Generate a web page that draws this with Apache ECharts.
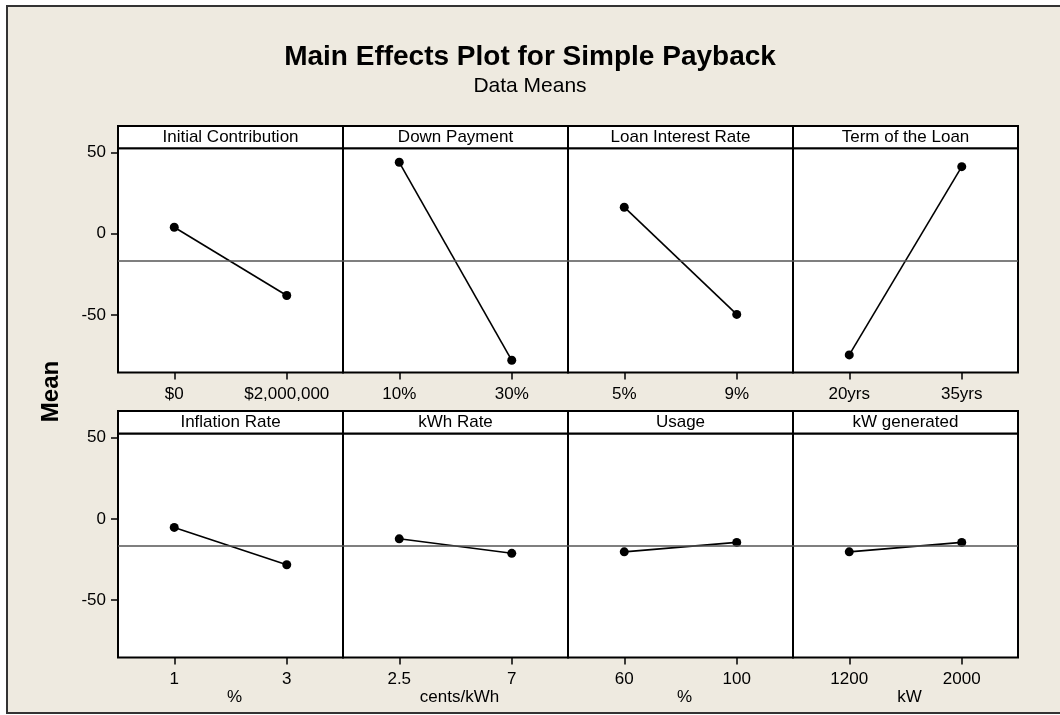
<!DOCTYPE html>
<html>
<head>
<meta charset="utf-8">
<title>Main Effects Plot for Simple Payback</title>
<script src="https://cdn.jsdelivr.net/npm/echarts@6/dist/echarts.min.js"></script>
<style>
  html, body { margin: 0; padding: 0; background: #ffffff; }
  #chart { width: 1060px; height: 715px; }
</style>
</head>
<body>
<div id="chart"></div>
<script>
// Factors and their two levels
const factors = ['Initial Contribution', 'Down Payment', 'Loan Interest Rate', 'Term of the Loan',
                 'Inflation Rate', 'kWh Rate', 'Usage', 'kW generated'];
const levels = [['$0', '$2,000,000'], ['10%', '30%'], ['5%', '9%'], ['20yrs', '35yrs'],
                ['1', '3'], ['2.5', '7'], ['60', '100'], ['1200', '2000']];
const units = ['', '', '', '', '%', 'cents/kWh', '%', 'kW'];

// Mean simple payback at each level
const levelMeans = [
  [4.0, -38.0],
  [43.9, -77.8],
  [16.3, -49.6],
  [-74.5, 41.2],
  [-5.3, -28.2],
  [-12.3, -21.2],
  [-20.3, -14.5],
  [-20.3, -14.5]
];
const grandMean = -16.8;

// Shared y scale
const yTicks = [-50, 0, 50];
const yMin = -85.3;
const yMax = 52.5;

// Panel layout
const FONT = 'Liberation Sans';
const PANEL_LEFT = 118, PANEL_W = 225;
const PLOT_TOP = [148.3, 433.4], PLOT_H = 224.2, STRIP_H = 22.4;

const grids = [], xAxes = [], yAxes = [], series = [], graphics = [];

// page frame
graphics.push({
  type: 'rect', z: -100,
  shape: { x: 7, y: 6, width: 1070, height: 707 },
  style: { fill: '#eeeae0', stroke: '#333333', lineWidth: 2 }
});

factors.forEach((name, i) => {
  const row = Math.floor(i / 4), col = i % 4;
  const left = PANEL_LEFT + PANEL_W * col;
  const top = PLOT_TOP[row];

  grids.push({
    left: left, top: top, width: PANEL_W, height: PLOT_H,
    show: true, backgroundColor: '#ffffff', borderColor: '#000000', borderWidth: 2,
    containLabel: false, outerBoundsMode: 'none'
  });

  xAxes.push({
    gridIndex: i, type: 'category', data: levels[i], boundaryGap: true, position: 'bottom',
    axisLine: { show: false, onZero: false },
    axisTick: { show: true, alignWithLabel: true, length: 7, lineStyle: { color: '#000', width: 1.5 } },
    axisLabel: { margin: 13, fontSize: 17, color: '#000', fontFamily: FONT },
    splitLine: { show: false },
    name: units[i], nameLocation: 'middle', nameGap: 25,
    nameTextStyle: { fontSize: 17, color: '#000', fontFamily: FONT, padding: [0, 0, 0, 8] }
  });

  const firstCol = col === 0;
  yAxes.push({
    gridIndex: i, type: 'value', min: yMin, max: yMax,
    axisLine: { show: false, onZero: false },
    axisTick: { show: firstCol, customValues: yTicks, length: 7, lineStyle: { color: '#000', width: 1.5 } },
    axisLabel: { show: firstCol, customValues: yTicks, margin: 12, fontSize: 17, color: '#000', fontFamily: FONT },
    splitLine: { show: false }
  });

  series.push({
    type: 'line', xAxisIndex: i, yAxisIndex: i, data: levelMeans[i],
    symbol: 'circle', symbolSize: 9, showSymbol: true,
    itemStyle: { color: '#000' },
    lineStyle: { color: '#000', width: 1.6 },
    markLine: {
      silent: true, symbol: 'none', label: { show: false },
      lineStyle: { color: '#555555', width: 1.5, type: 'solid' },
      data: [{ yAxis: grandMean }]
    }
  });

  // strip header with the factor name
  graphics.push({
    type: 'rect', z: 10,
    shape: { x: left, y: top - STRIP_H, width: PANEL_W, height: STRIP_H },
    style: { fill: '#ffffff', stroke: '#000000', lineWidth: 2 }
  });
  graphics.push({
    type: 'text', z: 11, x: left + PANEL_W / 2, y: top - STRIP_H / 2,
    style: {
      text: name, fill: '#000', fontSize: 17, fontFamily: FONT,
      align: 'center', verticalAlign: 'middle', textAlign: 'center', textVerticalAlign: 'middle'
    }
  });
});

// y axis title
graphics.push({
  type: 'text', z: 11, x: 51, y: 391.5, rotation: Math.PI / 2,
  style: {
    text: 'Mean', fill: '#000', fontSize: 24, fontWeight: 'bold', fontFamily: FONT,
    align: 'center', verticalAlign: 'middle', textAlign: 'center', textVerticalAlign: 'middle'
  }
});

const chart = echarts.init(document.getElementById('chart'), null, { renderer: 'canvas' });
chart.setOption({
  backgroundColor: '#ffffff',
  animation: false,
  title: {
    text: 'Main Effects Plot for Simple Payback',
    subtext: 'Data Means',
    left: 'center', top: 38, itemGap: 5,
    textStyle: { fontFamily: FONT, fontWeight: 'bold', fontSize: 28, color: '#000' },
    subtextStyle: { fontFamily: FONT, fontSize: 21, color: '#000' }
  },
  grid: grids,
  xAxis: xAxes,
  yAxis: yAxes,
  series: series,
  graphic: { elements: graphics }
});
</script>
</body>
</html>
